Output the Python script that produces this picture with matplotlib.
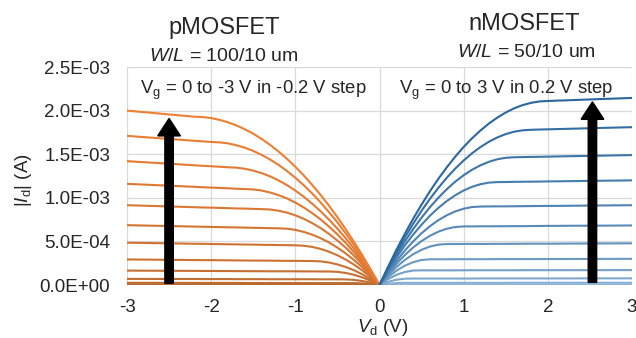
#!/usr/bin/env python3
"""Output characteristics of p- and nMOSFET (|Id| vs Vd)."""

import matplotlib
matplotlib.use("Agg")
import matplotlib.pyplot as plt
import numpy as np
from matplotlib.colors import to_rgb
from matplotlib.ticker import FuncFormatter, MultipleLocator

plt.rcParams.update({
    "font.family": ["Liberation Sans", "DejaVu Sans"],
    "font.size": 13.5,
    "mathtext.fontset": "custom",
    "mathtext.rm": "Liberation Sans",
    "mathtext.it": "Liberation Sans:italic",
    "mathtext.default": "regular",
    "axes.unicode_minus": False,
})

# |Vd| sample points (V), shared by every curve
vd_abs = [0, 0.1, 0.2, 0.3, 0.4, 0.5, 0.6, 0.7, 0.8, 0.9, 1.0, 1.1, 1.2,
          1.3, 1.4, 1.5, 1.6, 1.7, 1.8, 1.9, 2.0, 2.1, 2.2, 2.5, 3.0]

# gate voltages, 0 to 3 V in 0.2 V steps (p side is negative)
n_vg = [0.0, 0.2, 0.4, 0.6, 0.8, 1.0, 1.2, 1.4, 1.6, 1.8, 2.0, 2.2, 2.4, 2.6, 2.8, 3.0]
p_vg = [0.0, -0.2, -0.4, -0.6, -0.8, -1.0, -1.2, -1.4, -1.6, -1.8, -2.0, -2.2, -2.4, -2.6, -2.8, -3.0]

# nMOSFET |Id| in mA, one row per gate voltage
n_id_ma = [
    [0, 0, 0, 0, 0, 0, 0, 0, 0, 0, 0, 0, 0, 0, 0, 0, 0, 0, 0, 0, 0, 0, 0, 0, 0],
    [0, 0, 0, 0, 0, 0, 0, 0, 0, 0, 0, 0, 0, 0, 0, 0, 0, 0, 0, 0, 0, 0, 0, 0, 0],
    [0, 0, 0, 0, 0, 0, 0, 0, 0, 0, 0, 0, 0, 0, 0, 0, 0, 0, 0, 0, 0, 0, 0, 0, 0],
    [0, 0, 0, 0, 0, 0, 0, 0, 0, 0, 0, 0, 0, 0, 0, 0, 0, 0, 0, 0, 0, 0, 0, 0, 0],
    [0, 0.003, 0.0045, 0.005, 0.005, 0.005, 0.005, 0.005, 0.005, 0.005, 0.005, 0.005, 0.005,
     0.005, 0.005, 0.005, 0.005, 0.005, 0.005, 0.005, 0.005, 0.005, 0.005, 0.005, 0.005],
    [0, 0.014, 0.022, 0.025, 0.025, 0.025, 0.025, 0.025, 0.025, 0.025, 0.025, 0.025, 0.025,
     0.025, 0.025, 0.025, 0.026, 0.026, 0.026, 0.026, 0.026, 0.026, 0.026, 0.026, 0.026],
    [0, 0.036, 0.060, 0.072, 0.074, 0.074, 0.074, 0.074, 0.074, 0.074, 0.074, 0.074, 0.075,
     0.075, 0.075, 0.075, 0.075, 0.075, 0.075, 0.075, 0.075, 0.075, 0.075, 0.076, 0.076],
    [0, 0.066, 0.116, 0.149, 0.166, 0.168, 0.168, 0.168, 0.168, 0.168, 0.169, 0.169, 0.169,
     0.169, 0.169, 0.169, 0.169, 0.170, 0.170, 0.170, 0.170, 0.170, 0.170, 0.170, 0.171],
    [0, 0.090, 0.164, 0.221, 0.262, 0.287, 0.295, 0.295, 0.295, 0.296, 0.296, 0.296, 0.296,
     0.296, 0.297, 0.297, 0.297, 0.297, 0.297, 0.298, 0.298, 0.298, 0.298, 0.299, 0.300],
    [0, 0.110, 0.206, 0.286, 0.353, 0.404, 0.441, 0.463, 0.470, 0.470, 0.471, 0.471, 0.471,
     0.471, 0.472, 0.472, 0.473, 0.473, 0.474, 0.474, 0.474, 0.474, 0.475, 0.476, 0.478],
    [0, 0.128, 0.242, 0.343, 0.430, 0.504, 0.564, 0.612, 0.645, 0.665, 0.672, 0.672, 0.673,
     0.673, 0.674, 0.674, 0.675, 0.675, 0.676, 0.677, 0.678, 0.678, 0.679, 0.680, 0.683],
    [0, 0.144, 0.275, 0.394, 0.500, 0.594, 0.675, 0.744, 0.800, 0.844, 0.875, 0.894, 0.900,
     0.901, 0.902, 0.902, 0.903, 0.904, 0.905, 0.906, 0.907, 0.907, 0.908, 0.911, 0.915],
    [0, 0.163, 0.313, 0.452, 0.578, 0.692, 0.795, 0.885, 0.963, 1.029, 1.084, 1.126, 1.156,
     1.174, 1.180, 1.181, 1.183, 1.184, 1.185, 1.186, 1.188, 1.189, 1.190, 1.194, 1.200],
    [0, 0.177, 0.343, 0.498, 0.641, 0.773, 0.893, 1.001, 1.099, 1.185, 1.259, 1.322, 1.373,
     1.413, 1.442, 1.459, 1.465, 1.467, 1.469, 1.470, 1.472, 1.474, 1.476, 1.481, 1.490],
    [0, 0.192, 0.374, 0.544, 0.703, 0.852, 0.989, 1.115, 1.231, 1.335, 1.428, 1.511, 1.582,
     1.643, 1.692, 1.731, 1.758, 1.774, 1.780, 1.783, 1.785, 1.788, 1.790, 1.798, 1.810],
    [0, 0.206, 0.401, 0.586, 0.760, 0.923, 1.076, 1.219, 1.350, 1.472, 1.583, 1.683, 1.772,
     1.852, 1.920, 1.978, 2.026, 2.063, 2.089, 2.105, 2.110, 2.114, 2.117, 2.128, 2.145],
]

# pMOSFET |Id| in mA, one row per gate voltage
p_id_ma = [
    [0, 0, 0, 0, 0, 0, 0, 0, 0, 0, 0, 0, 0, 0, 0, 0, 0, 0, 0, 0, 0, 0, 0, 0, 0],
    [0, 0, 0, 0, 0, 0, 0, 0, 0, 0, 0, 0, 0, 0, 0, 0, 0, 0, 0, 0, 0, 0, 0, 0, 0],
    [0, 0, 0, 0, 0, 0, 0, 0, 0, 0, 0, 0, 0, 0, 0, 0, 0, 0, 0, 0, 0, 0, 0, 0, 0],
    [0, 0, 0, 0, 0, 0, 0, 0, 0, 0, 0, 0, 0, 0, 0, 0, 0, 0, 0, 0, 0, 0, 0, 0, 0],
    [0, 0.003, 0.0045, 0.005, 0.005, 0.005, 0.005, 0.005, 0.005, 0.005, 0.005, 0.005, 0.005,
     0.005, 0.005, 0.005, 0.005, 0.005, 0.005, 0.005, 0.006, 0.006, 0.006, 0.006, 0.006],
    [0, 0.011, 0.018, 0.0216, 0.022, 0.022, 0.022, 0.022, 0.022, 0.022, 0.023, 0.023, 0.023,
     0.023, 0.023, 0.023, 0.023, 0.024, 0.024, 0.024, 0.024, 0.024, 0.024, 0.025, 0.025],
    [0, 0.026, 0.045, 0.058, 0.064, 0.065, 0.065, 0.065, 0.066, 0.066, 0.066, 0.066, 0.066,
     0.066, 0.067, 0.067, 0.067, 0.067, 0.068, 0.068, 0.068, 0.068, 0.069, 0.069, 0.070],
    [0, 0.047, 0.086, 0.116, 0.138, 0.151, 0.155, 0.155, 0.156, 0.156, 0.157, 0.157, 0.157,
     0.157, 0.158, 0.158, 0.159, 0.159, 0.160, 0.160, 0.161, 0.161, 0.162, 0.163, 0.165],
    [0, 0.064, 0.120, 0.168, 0.206, 0.236, 0.258, 0.271, 0.275, 0.276, 0.277, 0.277, 0.278,
     0.279, 0.280, 0.280, 0.281, 0.282, 0.283, 0.284, 0.285, 0.285, 0.286, 0.289, 0.293],
    [0, 0.086, 0.164, 0.232, 0.291, 0.341, 0.382, 0.414, 0.437, 0.450, 0.455, 0.457, 0.458,
     0.460, 0.461, 0.463, 0.464, 0.466, 0.467, 0.469, 0.470, 0.472, 0.473, 0.478, 0.485],
    [0, 0.104, 0.199, 0.284, 0.361, 0.429, 0.488, 0.537, 0.578, 0.609, 0.632, 0.646, 0.650,
     0.652, 0.654, 0.656, 0.658, 0.660, 0.662, 0.664, 0.666, 0.668, 0.670, 0.676, 0.686],
    [0, 0.120, 0.231, 0.333, 0.426, 0.510, 0.586, 0.653, 0.710, 0.759, 0.799, 0.830, 0.852,
     0.866, 0.870, 0.873, 0.876, 0.878, 0.881, 0.884, 0.887, 0.889, 0.892, 0.901, 0.915],
    [0, 0.133, 0.258, 0.374, 0.481, 0.580, 0.670, 0.752, 0.825, 0.889, 0.945, 0.993, 1.031,
     1.061, 1.083, 1.096, 1.100, 1.104, 1.109, 1.113, 1.117, 1.121, 1.126, 1.139, 1.160],
    [0, 0.146, 0.283, 0.413, 0.533, 0.646, 0.750, 0.846, 0.933, 1.013, 1.083, 1.146, 1.200,
     1.246, 1.283, 1.312, 1.333, 1.346, 1.350, 1.356, 1.362, 1.367, 1.373, 1.391, 1.420],
    [0, 0.160, 0.312, 0.455, 0.590, 0.718, 0.836, 0.947, 1.050, 1.144, 1.230, 1.308, 1.378,
     1.439, 1.492, 1.538, 1.574, 1.603, 1.624, 1.636, 1.640, 1.647, 1.654, 1.675, 1.710],
    [0, 0.171, 0.335, 0.490, 0.638, 0.778, 0.909, 1.033, 1.148, 1.256, 1.356, 1.448, 1.531,
     1.607, 1.675, 1.735, 1.786, 1.830, 1.866, 1.894, 1.914, 1.926, 1.930, 1.956, 2.000],
]


def shades(c0: str, c1: str, n: int) -> list:
    a, b = np.array(to_rgb(c0)), np.array(to_rgb(c1))
    return [tuple(a + (b - a) * t) for t in np.linspace(0, 1, n)]


def main() -> None:
    fig = plt.figure(figsize=(6.36, 3.38), dpi=100)
    ax = fig.add_axes([127 / 636, 53 / 338, 505 / 636, 218 / 338])

    vd = np.array(vd_abs)
    p_cols = shades("#a4612f", "#ee7f33", len(p_vg))
    n_cols = shades("#b7d4ee", "#2a679f", len(n_vg))

    for vals, col in zip(p_id_ma, p_cols):
        ax.plot(-vd, np.array(vals) * 1e-3, color=col, lw=1.5,
                solid_joinstyle="round", zorder=3)
    for vals, col in zip(n_id_ma, n_cols):
        ax.plot(vd, np.array(vals) * 1e-3, color=col, lw=1.5,
                solid_joinstyle="round", zorder=3)

    # sweep-direction arrows
    ax.arrow(-2.5, 0.02e-3, 0, 1.89e-3, width=0.1, head_width=0.27,
             head_length=0.2e-3, length_includes_head=True,
             color="black", zorder=5)
    ax.arrow(2.53, 0.03e-3, 0, 2.07e-3, width=0.1, head_width=0.27,
             head_length=0.2e-3, length_includes_head=True,
             color="black", zorder=5)

    ax.set_xlim(-3, 3)
    ax.set_ylim(0, 2.5e-3)
    ax.xaxis.set_major_locator(MultipleLocator(1))
    ax.yaxis.set_major_locator(MultipleLocator(0.5e-3))
    ax.xaxis.set_major_formatter(FuncFormatter(lambda v, _: f"{v:.0f}"))
    ax.yaxis.set_major_formatter(FuncFormatter(lambda v, _: f"{v:.1E}"))
    ax.grid(True, color="#d9d9d9", lw=0.9)
    ax.set_axisbelow(True)
    for s in ax.spines.values():
        s.set_visible(False)
    ax.tick_params(length=0, colors="#262626")
    ax.tick_params(axis="y", pad=12)
    ax.tick_params(axis="x", pad=10)

    ax.set_xlabel(r"$\mathit{V}_\mathrm{d}$ (V)", color="#262626", va="center")
    ax.xaxis.set_label_coords(0.507, -0.195)
    ax.set_ylabel(r"|$\mathit{I}_\mathrm{d}$| (A)", color="#262626", va="center")
    ax.yaxis.set_label_coords(-0.205, 0.48)

    ax.text(-1.5, 2.19e-3, r"V$_\mathrm{g}$ = 0 to -3 V in -0.2 V step",
            ha="center", va="baseline", fontsize=13.3, color="#262626")
    ax.text(1.5, 2.19e-3, r"V$_\mathrm{g}$ = 0 to 3 V in 0.2 V step",
            ha="center", va="baseline", fontsize=13.3, color="#262626")

    ax.text(-1.85, 2.88e-3, "pMOSFET", ha="center", va="baseline",
            fontsize=17, color="#262626", clip_on=False)
    ax.text(-1.85, 2.57e-3, r"$\mathit{W/L}$ = 100/10 um", ha="center",
            va="baseline", fontsize=14, color="#262626", clip_on=False)
    ax.text(1.72, 2.92e-3, "nMOSFET", ha="center", va="baseline",
            fontsize=17, color="#262626", clip_on=False)
    ax.text(1.75, 2.61e-3, r"$\mathit{W/L}$ = 50/10 um", ha="center",
            va="baseline", fontsize=14, color="#262626", clip_on=False)

    fig.savefig("out.png", dpi=100)


if __name__ == "__main__":
    main()
